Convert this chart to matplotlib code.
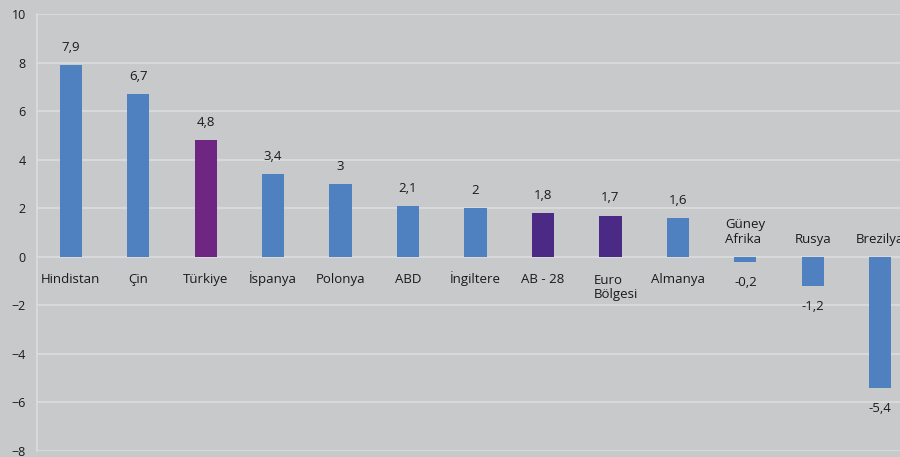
import matplotlib
matplotlib.use("Agg")
import matplotlib.pyplot as plt

countries = ["Hindistan", "Çin", "Türkiye", "İspanya", "Polonya", "ABD", "İngiltere",
             "AB - 28", "Euro\nBölgesi", "Almanya", "Güney\nAfrika", "Rusya", "Brezilya"]
growth = [7.9, 6.7, 4.8, 3.4, 3.0, 2.1, 2.0, 1.8, 1.7, 1.6, -0.2, -1.2, -5.4]

BLUE = "#4f81c0"
PURPLE = "#6f2683"
INDIGO = "#4b2a86"
colors = [BLUE, BLUE, PURPLE, BLUE, BLUE, BLUE, BLUE, INDIGO, INDIGO, BLUE, BLUE, BLUE, BLUE]

plt.rcParams["font.family"] = ["Open Sans", "DejaVu Sans"]
BG = "#c8c9cb"

fig = plt.figure(figsize=(9, 4.57), dpi=100, facecolor=BG)
ax = fig.add_axes([37 / 900, 1 - 451 / 457, 877 / 900, 437 / 457])
ax.set_facecolor(BG)

x = list(range(len(countries)))
ax.bar(x, growth, width=0.33, color=colors, zorder=3)

ax.set_xlim(-0.5, len(countries) - 0.5)
ax.set_ylim(-8, 10)
ax.set_yticks(range(-8, 11, 2))
ax.yaxis.grid(True, color="#dcdddf", linewidth=1.2, zorder=0)
ax.set_xticks([])
ax.tick_params(axis="y", length=0, pad=8, labelsize=9, labelcolor="#1a1a1a")
for side in ["top", "right", "bottom"]:
    ax.spines[side].set_visible(False)
ax.spines["left"].set_color("#dcdddf")
ax.spines["left"].set_linewidth(1.2)

for xi, v, name in zip(x, growth, countries):
    label = f"{v:g}".replace(".", ",")
    extra = name.count("\n")
    if v >= 0:
        ax.annotate(label, (xi, v), xytext=(0, 8), textcoords="offset points",
                    ha="center", va="bottom", fontsize=9.5, color="#1a1a1a")
        # baseline of the last line; push multi-line labels down so the first line sits on -1.1
        ax.text(xi + 0.08 * extra, -1.1 - 0.6 * extra, name, ha="center", va="baseline",
                fontsize=9.5, color="#1a1a1a", linespacing=1.15, multialignment="left")
    else:
        ax.annotate(label, (xi, v), xytext=(0, -10), textcoords="offset points",
                    ha="center", va="top", fontsize=9.5, color="#1a1a1a")
        ax.text(xi, 0.45, name, ha="center", va="bottom", fontsize=9.5,
                color="#1a1a1a", linespacing=1.15, multialignment="left")

fig.savefig("out.png", dpi=100, facecolor=BG)
